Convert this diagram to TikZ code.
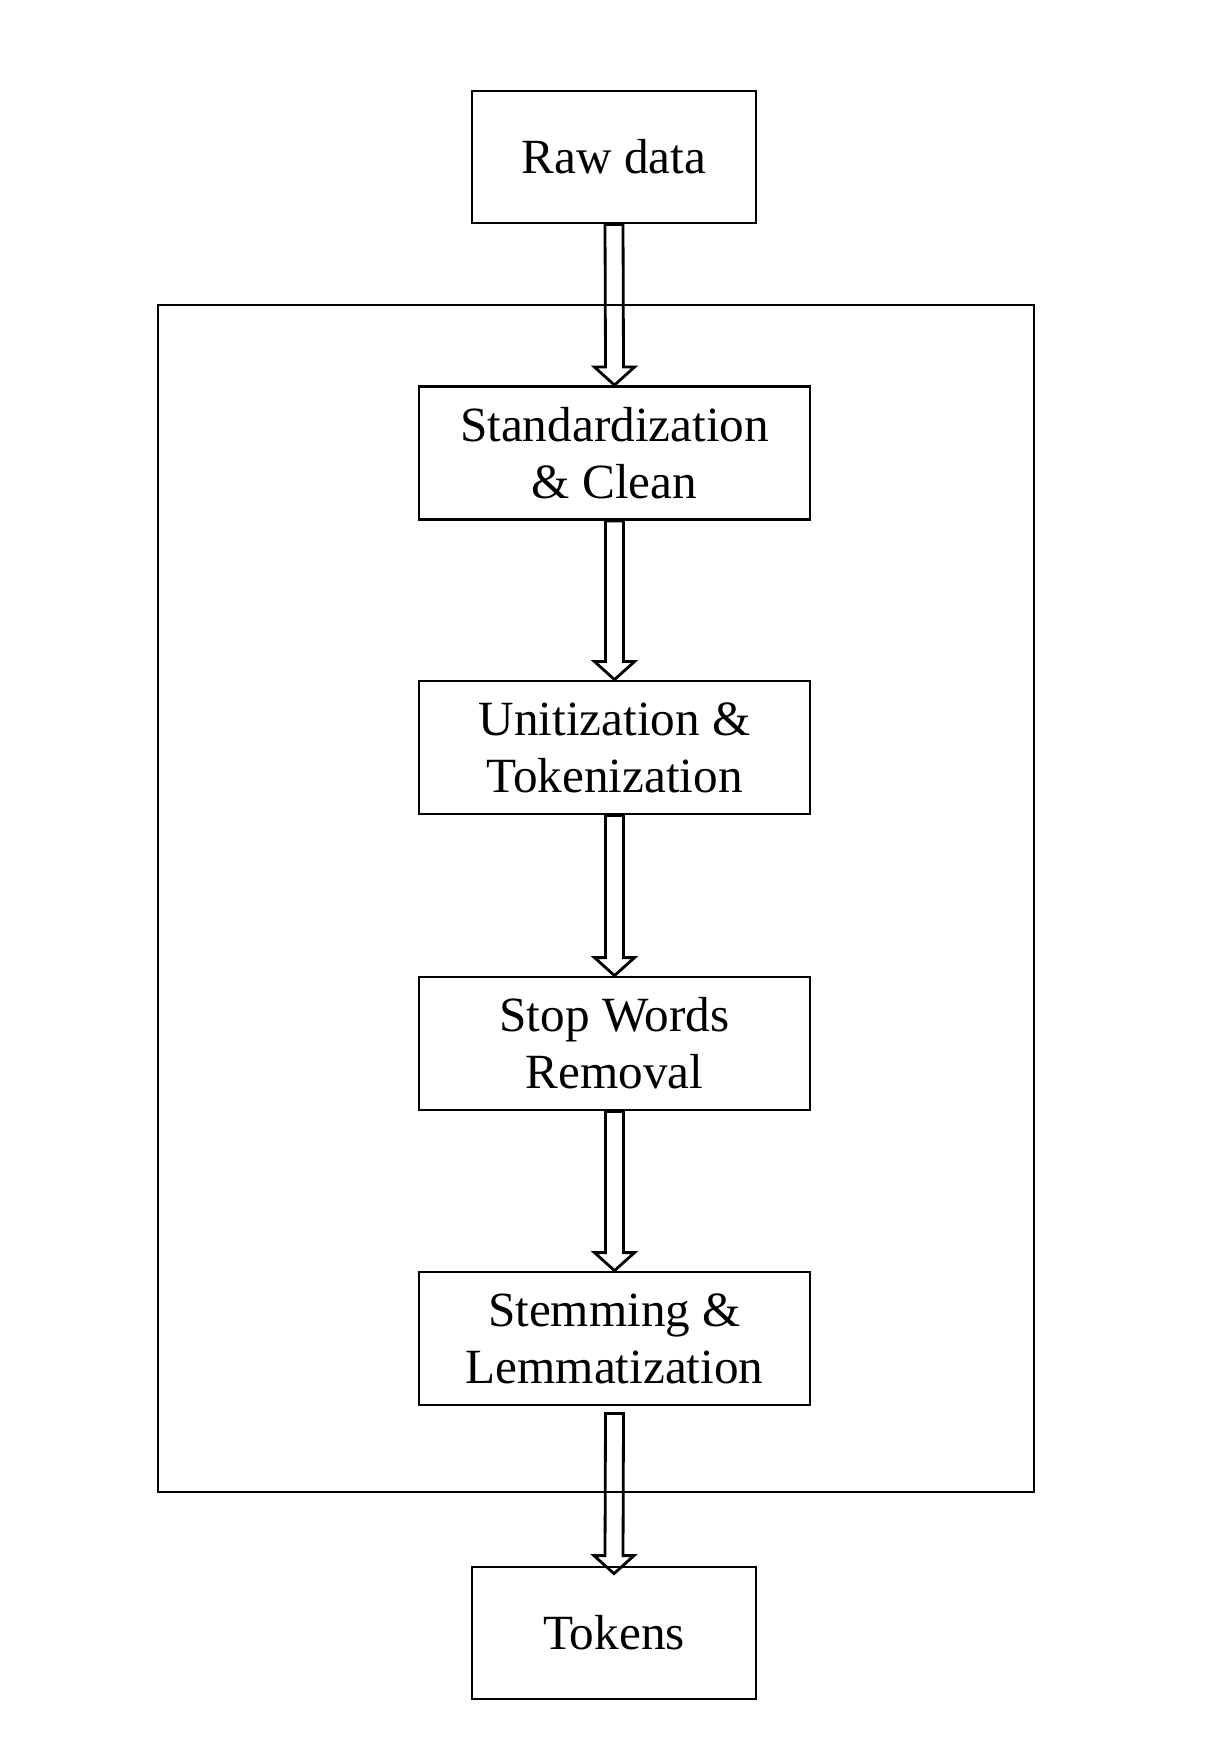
\documentclass[tikz,border=0pt]{standalone}
\usepackage{fontspec}
\setmainfont{Liberation Serif}
\usetikzlibrary{arrows}

\begin{document}
\begin{tikzpicture}[
  box/.style={draw,line width=0.8pt,minimum width=2.84cm,minimum height=1.32cm,align=center,
    font=\fontsize{14}{16.2}\selectfont,inner sep=0pt},
  stage/.style={box,minimum width=3.91cm,minimum height=1.33cm},
  flow/.style={line width=0.8pt,line join=miter,to path={
    ([xshift=-0.09cm]\tikztostart) -- ([xshift=-0.09cm,yshift=0.18cm]\tikztotarget)
    -- ([xshift=-0.2cm,yshift=0.18cm]\tikztotarget) -- (\tikztotarget)
    -- ([xshift=0.2cm,yshift=0.18cm]\tikztotarget) -- ([xshift=0.09cm,yshift=0.18cm]\tikztotarget)
    -- ([xshift=0.09cm]\tikztostart) -- cycle}}]
\useasboundingbox (0,0) rectangle (12.04,-17.42);
\node[box] (raw) at (6.14,-1.57) {Raw data};
\node[stage] (std) at (6.145,-4.53) {Standardization\\\& Clean};
\node[stage] (unit) at (6.145,-7.475) {Unitization \&\\Tokenization};
\node[stage] (stop) at (6.145,-10.435) {Stop Words\\Removal};
\node[stage] (stem) at (6.145,-13.385) {Stemming \&\\Lemmatization};
\node[box] (tok) at (6.14,-16.33) {Tokens};
\draw[line width=0.8pt] (1.58,-3.05) rectangle (10.34,-14.92);
\coordinate (out) at ([yshift=-0.07cm]stem.south);
\coordinate (in) at ([yshift=-0.08cm]tok.north);
\path (raw.south) edge[flow] (std.north) (std.south) edge[flow] (unit.north)
  (unit.south) edge[flow] (stop.north) (stop.south) edge[flow] (stem.north);
\path (out) edge[flow] (in);
\end{tikzpicture}
\end{document}
